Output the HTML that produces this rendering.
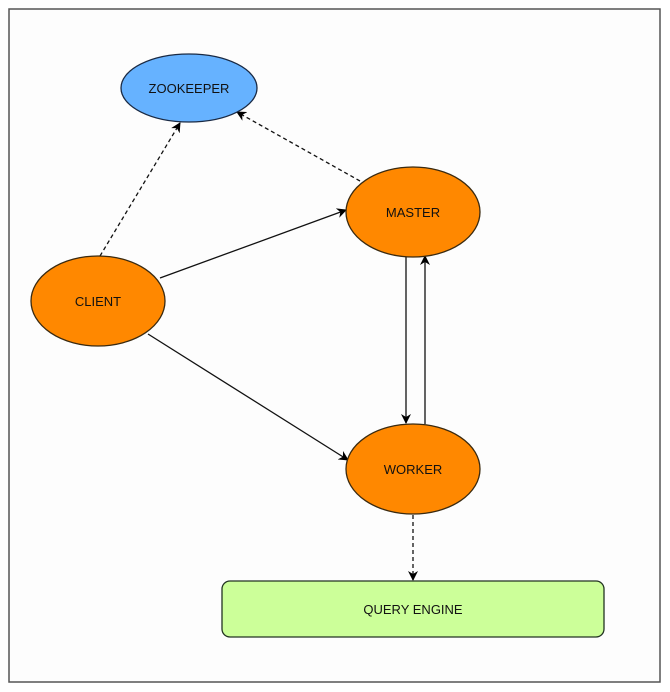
<!DOCTYPE html>
<html><head><style>body{margin:0;background:#fff}</style></head><body>
<svg width="670" height="692" xmlns="http://www.w3.org/2000/svg" style="display:block">
<defs><marker id="a" markerWidth="10" markerHeight="10" refX="9" refY="5" orient="auto" markerUnits="userSpaceOnUse"><path d="M0,0 L10,5 L0,10 L3,5 Z" fill="#000"/></marker></defs>
<rect x="0" y="0" width="670" height="692" fill="#fff"/>
<rect x="9" y="9" width="651" height="673" fill="#fdfdfd" stroke="#555" stroke-width="1.5"/>
<g stroke="#111" stroke-width="1.3" fill="none">
<line x1="100" y1="256" x2="180" y2="123" stroke-dasharray="4,3" marker-end="url(#a)"/>
<line x1="360" y1="181" x2="237" y2="112" stroke-dasharray="4,3" marker-end="url(#a)"/>
<line x1="160" y1="278" x2="346" y2="210" marker-end="url(#a)"/>
<line x1="148" y1="334" x2="348" y2="460" marker-end="url(#a)"/>
<line x1="406" y1="257" x2="406" y2="423" marker-end="url(#a)"/>
<line x1="425" y1="424" x2="425" y2="256" marker-end="url(#a)"/>
<line x1="413" y1="515" x2="413" y2="580" stroke-dasharray="4,3" marker-end="url(#a)"/>
</g>
<g stroke="#3a2a10" stroke-width="1.3" font-family="'Comic Sans MS','Liberation Sans',sans-serif" font-size="13" text-anchor="middle">
<ellipse cx="189" cy="88" rx="68" ry="34" fill="#66b2ff" stroke="#1a2a44"/>
<ellipse cx="98" cy="301" rx="67" ry="45" fill="#ff8800"/>
<ellipse cx="413" cy="212" rx="67" ry="45" fill="#ff8800"/>
<ellipse cx="413" cy="469" rx="67" ry="45" fill="#ff8800"/>
<rect x="222" y="581" width="382" height="56" rx="8" fill="#ccff99" stroke="#223322"/>
<g stroke="none" fill="#111">
<text x="189" y="93">ZOOKEEPER</text>
<text x="98" y="306">CLIENT</text>
<text x="413" y="217">MASTER</text>
<text x="413" y="474">WORKER</text>
<text x="413" y="614">QUERY ENGINE</text>
</g></g>
</svg>
</body></html>
